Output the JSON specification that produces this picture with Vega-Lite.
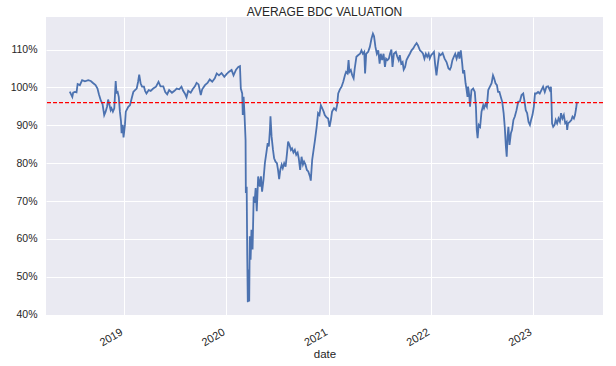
{
  "$schema": "https://vega.github.io/schema/vega-lite/v6.json",
  "width": 557,
  "height": 298,
  "autosize": {"type": "none"},
  "padding": {"left": 46, "top": 17, "right": 13, "bottom": 51},
  "background": "white",
  "title": {"text": "AVERAGE BDC VALUATION", "fontSize": 12, "font": "Liberation Sans", "fontWeight": "normal", "color": "#262626", "offset": -2},
  "config": {
    "view": {"fill": "#EAEAF2", "stroke": null},
    "axis": {"domain": false, "ticks": false, "gridColor": "white", "gridWidth": 1, "labelFont": "Liberation Sans", "labelColor": "#262626", "titleFont": "Liberation Sans", "titleColor": "#262626", "titleFontWeight": "normal"}
  },
  "datasets": {
    "bdc": [
      {"date":"2018-06-21","value":98.9},{"date":"2018-06-30","value":97.5},{"date":"2018-07-03","value":98.6},{"date":"2018-07-09","value":98.8},{"date":"2018-07-15","value":98.7},{"date":"2018-07-19","value":100.9},{"date":"2018-07-27","value":100.6},{"date":"2018-08-04","value":101.9},{"date":"2018-08-14","value":101.6},{"date":"2018-08-26","value":101.9},{"date":"2018-09-04","value":101.7},{"date":"2018-09-13","value":101.1},{"date":"2018-09-21","value":100.6},{"date":"2018-09-28","value":99.7},{"date":"2018-10-03","value":98.2},{"date":"2018-10-10","value":96.5},{"date":"2018-10-16","value":95.6},{"date":"2018-10-22","value":92.7},{"date":"2018-10-27","value":93.6},{"date":"2018-11-01","value":94.9},{"date":"2018-11-05","value":96.8},{"date":"2018-11-10","value":95.3},{"date":"2018-11-14","value":94.0},{"date":"2018-11-17","value":94.5},{"date":"2018-11-22","value":93.6},{"date":"2018-11-27","value":94.5},{"date":"2018-12-02","value":101.7},{"date":"2018-12-05","value":98.6},{"date":"2018-12-09","value":98.8},{"date":"2018-12-13","value":97.5},{"date":"2018-12-17","value":93.6},{"date":"2018-12-21","value":91.0},{"date":"2018-12-23","value":87.9},{"date":"2018-12-27","value":90.1},{"date":"2018-12-30","value":86.8},
      {"date":"2019-01-04","value":90.1},{"date":"2019-01-07","value":93.6},{"date":"2019-01-16","value":94.9},{"date":"2019-01-22","value":95.3},{"date":"2019-01-28","value":97.1},{"date":"2019-02-03","value":98.8},{"date":"2019-02-09","value":99.3},{"date":"2019-02-15","value":99.7},{"date":"2019-02-20","value":101.5},{"date":"2019-02-24","value":103.4},{"date":"2019-03-01","value":101.1},{"date":"2019-03-06","value":100.2},{"date":"2019-03-13","value":100.2},{"date":"2019-03-17","value":99.1},{"date":"2019-03-22","value":98.4},{"date":"2019-03-30","value":99.3},{"date":"2019-04-06","value":99.1},{"date":"2019-04-15","value":99.7},{"date":"2019-04-25","value":100.2},{"date":"2019-05-04","value":101.5},{"date":"2019-05-11","value":100.3},{"date":"2019-05-21","value":100.3},{"date":"2019-05-28","value":98.8},{"date":"2019-06-04","value":98.2},{"date":"2019-06-11","value":99.3},{"date":"2019-06-21","value":98.6},{"date":"2019-06-30","value":99.1},{"date":"2019-07-08","value":99.7},{"date":"2019-07-17","value":99.5},{"date":"2019-07-25","value":100.2},{"date":"2019-07-31","value":99.1},{"date":"2019-08-06","value":98.4},{"date":"2019-08-12","value":97.4},{"date":"2019-08-18","value":99.1},{"date":"2019-08-27","value":98.6},{"date":"2019-09-03","value":99.5},{"date":"2019-09-11","value":100.3},{"date":"2019-09-17","value":101.2},{"date":"2019-09-24","value":100.8},{"date":"2019-10-02","value":98.0},{"date":"2019-10-07","value":99.5},{"date":"2019-10-17","value":100.6},{"date":"2019-10-26","value":101.2},{"date":"2019-11-03","value":102.1},{"date":"2019-11-12","value":101.5},{"date":"2019-11-21","value":102.4},{"date":"2019-11-28","value":103.7},{"date":"2019-12-06","value":103.2},{"date":"2019-12-15","value":103.8},{"date":"2019-12-25","value":102.8},
      {"date":"2020-01-02","value":103.5},{"date":"2020-01-10","value":104.1},{"date":"2020-01-20","value":104.6},{"date":"2020-01-27","value":103.2},{"date":"2020-02-05","value":104.7},{"date":"2020-02-13","value":105.4},{"date":"2020-02-19","value":105.6},{"date":"2020-02-22","value":99.7},{"date":"2020-02-27","value":98.4},{"date":"2020-02-29","value":92.7},{"date":"2020-03-03","value":97.5},{"date":"2020-03-06","value":93.2},{"date":"2020-03-10","value":86.1},{"date":"2020-03-11","value":72.1},{"date":"2020-03-14","value":73.8},{"date":"2020-03-16","value":55.4},{"date":"2020-03-18","value":43.3},{"date":"2020-03-21","value":51.9},{"date":"2020-03-23","value":43.5},{"date":"2020-03-25","value":60.7},{"date":"2020-03-28","value":54.5},{"date":"2020-03-31","value":62.4},{"date":"2020-04-04","value":57.2},{"date":"2020-04-08","value":71.2},{"date":"2020-04-11","value":69.5},{"date":"2020-04-15","value":73.4},{"date":"2020-04-19","value":67.3},{"date":"2020-04-24","value":76.5},{"date":"2020-04-30","value":73.8},{"date":"2020-05-04","value":76.5},{"date":"2020-05-08","value":72.5},{"date":"2020-05-13","value":75.6},{"date":"2020-05-18","value":80.0},{"date":"2020-05-24","value":83.1},{"date":"2020-05-28","value":85.3},{"date":"2020-06-01","value":84.4},{"date":"2020-06-05","value":88.8},{"date":"2020-06-07","value":92.4},{"date":"2020-06-11","value":87.0},{"date":"2020-06-16","value":83.5},{"date":"2020-06-20","value":81.3},{"date":"2020-06-25","value":80.4},{"date":"2020-06-30","value":80.0},{"date":"2020-07-04","value":78.2},{"date":"2020-07-08","value":75.8},{"date":"2020-07-12","value":78.2},{"date":"2020-07-17","value":79.6},{"date":"2020-07-21","value":78.7},{"date":"2020-07-26","value":80.0},{"date":"2020-07-31","value":79.1},{"date":"2020-08-05","value":82.6},{"date":"2020-08-09","value":85.7},{"date":"2020-08-14","value":84.8},{"date":"2020-08-19","value":83.5},{"date":"2020-08-23","value":83.9},{"date":"2020-08-28","value":82.8},{"date":"2020-09-02","value":83.5},{"date":"2020-09-07","value":82.2},{"date":"2020-09-12","value":82.8},{"date":"2020-09-16","value":81.3},{"date":"2020-09-21","value":78.2},{"date":"2020-09-26","value":81.7},{"date":"2020-10-01","value":79.6},{"date":"2020-10-05","value":80.4},{"date":"2020-10-10","value":79.6},{"date":"2020-10-15","value":78.2},{"date":"2020-10-20","value":77.8},{"date":"2020-10-26","value":76.5},{"date":"2020-10-29","value":75.4},{"date":"2020-11-03","value":80.9},{"date":"2020-11-08","value":83.5},{"date":"2020-11-13","value":86.1},{"date":"2020-11-19","value":89.6},{"date":"2020-11-24","value":93.2},{"date":"2020-11-29","value":92.7},{"date":"2020-12-04","value":95.3},{"date":"2020-12-09","value":94.5},{"date":"2020-12-14","value":93.6},{"date":"2020-12-18","value":92.7},{"date":"2020-12-24","value":92.1},{"date":"2020-12-30","value":91.8},
      {"date":"2021-01-04","value":89.6},{"date":"2021-01-09","value":91.5},{"date":"2021-01-13","value":93.6},{"date":"2021-01-20","value":94.5},{"date":"2021-01-27","value":94.0},{"date":"2021-01-31","value":95.3},{"date":"2021-02-04","value":98.4},{"date":"2021-02-10","value":99.5},{"date":"2021-02-16","value":100.2},{"date":"2021-02-22","value":101.5},{"date":"2021-02-28","value":103.2},{"date":"2021-03-04","value":104.1},{"date":"2021-03-09","value":103.7},{"date":"2021-03-13","value":107.2},{"date":"2021-03-16","value":104.1},{"date":"2021-03-21","value":104.6},{"date":"2021-03-26","value":103.2},{"date":"2021-03-31","value":102.4},{"date":"2021-04-04","value":105.0},{"date":"2021-04-10","value":108.1},{"date":"2021-04-16","value":108.5},{"date":"2021-04-23","value":108.9},{"date":"2021-04-28","value":109.8},{"date":"2021-05-03","value":108.9},{"date":"2021-05-08","value":109.4},{"date":"2021-05-11","value":103.7},{"date":"2021-05-15","value":108.9},{"date":"2021-05-22","value":109.4},{"date":"2021-05-28","value":110.7},{"date":"2021-06-03","value":112.9},{"date":"2021-06-08","value":114.2},{"date":"2021-06-12","value":113.5},{"date":"2021-06-17","value":110.7},{"date":"2021-06-22","value":108.9},{"date":"2021-06-27","value":109.8},{"date":"2021-07-02","value":106.3},{"date":"2021-07-06","value":108.9},{"date":"2021-07-11","value":107.2},{"date":"2021-07-16","value":108.9},{"date":"2021-07-21","value":105.4},{"date":"2021-07-25","value":107.6},{"date":"2021-07-30","value":107.2},{"date":"2021-08-04","value":107.6},{"date":"2021-08-08","value":108.9},{"date":"2021-08-13","value":110.0},{"date":"2021-08-17","value":105.4},{"date":"2021-08-22","value":108.9},{"date":"2021-08-29","value":109.4},{"date":"2021-09-03","value":108.1},{"date":"2021-09-08","value":107.2},{"date":"2021-09-12","value":108.5},{"date":"2021-09-17","value":106.3},{"date":"2021-09-22","value":106.7},{"date":"2021-09-26","value":104.7},{"date":"2021-10-01","value":105.4},{"date":"2021-10-06","value":107.2},{"date":"2021-10-12","value":108.1},{"date":"2021-10-18","value":108.9},{"date":"2021-10-24","value":109.8},{"date":"2021-10-30","value":110.3},{"date":"2021-11-05","value":111.1},{"date":"2021-11-11","value":111.7},{"date":"2021-11-16","value":111.1},{"date":"2021-11-23","value":109.8},{"date":"2021-11-29","value":109.4},{"date":"2021-12-04","value":108.9},{"date":"2021-12-09","value":107.6},{"date":"2021-12-14","value":108.9},{"date":"2021-12-19","value":108.1},{"date":"2021-12-24","value":108.9},{"date":"2021-12-28","value":107.6},
      {"date":"2022-01-02","value":108.5},{"date":"2022-01-07","value":108.9},{"date":"2022-01-12","value":109.4},{"date":"2022-01-16","value":106.3},{"date":"2022-01-21","value":103.2},{"date":"2022-01-26","value":106.3},{"date":"2022-01-31","value":108.9},{"date":"2022-02-05","value":108.5},{"date":"2022-02-12","value":109.1},{"date":"2022-02-19","value":107.6},{"date":"2022-02-26","value":106.7},{"date":"2022-03-05","value":105.0},{"date":"2022-03-10","value":104.7},{"date":"2022-03-14","value":105.4},{"date":"2022-03-19","value":107.2},{"date":"2022-03-24","value":108.1},{"date":"2022-03-29","value":108.9},{"date":"2022-04-03","value":107.6},{"date":"2022-04-10","value":109.4},{"date":"2022-04-13","value":107.6},{"date":"2022-04-18","value":109.8},{"date":"2022-04-23","value":106.3},{"date":"2022-04-26","value":103.7},{"date":"2022-04-30","value":104.6},{"date":"2022-05-05","value":101.1},{"date":"2022-05-08","value":99.7},{"date":"2022-05-12","value":97.5},{"date":"2022-05-14","value":100.2},{"date":"2022-05-18","value":98.0},{"date":"2022-05-21","value":94.9},{"date":"2022-05-26","value":99.3},{"date":"2022-06-01","value":99.7},{"date":"2022-06-07","value":98.8},{"date":"2022-06-11","value":94.9},{"date":"2022-06-14","value":88.8},{"date":"2022-06-17","value":86.6},{"date":"2022-06-21","value":90.1},{"date":"2022-06-26","value":89.6},{"date":"2022-07-01","value":93.6},{"date":"2022-07-07","value":95.3},{"date":"2022-07-10","value":94.5},{"date":"2022-07-15","value":95.6},{"date":"2022-07-20","value":94.9},{"date":"2022-07-25","value":99.3},{"date":"2022-07-31","value":100.2},{"date":"2022-08-06","value":101.1},{"date":"2022-08-11","value":103.2},{"date":"2022-08-15","value":102.4},{"date":"2022-08-20","value":101.1},{"date":"2022-08-25","value":100.6},{"date":"2022-08-29","value":98.8},{"date":"2022-09-03","value":98.8},{"date":"2022-09-08","value":97.5},{"date":"2022-09-13","value":96.2},{"date":"2022-09-18","value":93.2},{"date":"2022-09-22","value":89.6},{"date":"2022-09-26","value":84.4},{"date":"2022-09-29","value":81.7},{"date":"2022-10-02","value":87.0},{"date":"2022-10-05","value":89.6},{"date":"2022-10-09","value":84.8},{"date":"2022-10-14","value":87.9},{"date":"2022-10-18","value":88.8},{"date":"2022-10-23","value":91.4},{"date":"2022-10-28","value":92.3},{"date":"2022-11-03","value":94.0},{"date":"2022-11-09","value":96.2},{"date":"2022-11-15","value":96.3},{"date":"2022-11-21","value":98.0},{"date":"2022-11-27","value":98.4},{"date":"2022-12-02","value":96.2},{"date":"2022-12-06","value":94.0},{"date":"2022-12-11","value":93.2},{"date":"2022-12-16","value":90.9},{"date":"2022-12-21","value":90.1},{"date":"2022-12-25","value":91.4},{"date":"2022-12-30","value":92.7},
      {"date":"2023-01-04","value":94.9},{"date":"2023-01-08","value":98.4},{"date":"2023-01-13","value":98.4},{"date":"2023-01-19","value":98.8},{"date":"2023-01-25","value":98.4},{"date":"2023-01-31","value":99.3},{"date":"2023-02-06","value":100.2},{"date":"2023-02-12","value":98.8},{"date":"2023-02-18","value":100.2},{"date":"2023-02-24","value":100.3},{"date":"2023-03-02","value":99.3},{"date":"2023-03-06","value":100.2},{"date":"2023-03-08","value":95.8},{"date":"2023-03-10","value":90.5},{"date":"2023-03-14","value":89.6},{"date":"2023-03-19","value":90.1},{"date":"2023-03-23","value":91.4},{"date":"2023-03-28","value":90.5},{"date":"2023-04-02","value":91.8},{"date":"2023-04-07","value":90.9},{"date":"2023-04-11","value":93.2},{"date":"2023-04-16","value":91.8},{"date":"2023-04-21","value":92.7},{"date":"2023-04-26","value":90.5},{"date":"2023-05-01","value":90.9},{"date":"2023-05-03","value":88.8},{"date":"2023-05-06","value":90.5},{"date":"2023-05-12","value":90.9},{"date":"2023-05-18","value":91.4},{"date":"2023-05-22","value":92.3},{"date":"2023-05-27","value":91.8},{"date":"2023-05-31","value":92.7},{"date":"2023-06-04","value":94.5},{"date":"2023-06-07","value":96.2}
    ],
    "ref": [{"level": 96.0}]
  },
  "layer": [
    {
      "data": {"name": "bdc"},
      "mark": {"type": "line", "color": "#4C72B0", "strokeWidth": 1.8, "clip": true},
      "encoding": {
        "x": {
          "field": "date", "type": "temporal",
          "scale": {"type": "utc", "domain": [{"year": 2018, "month": 3, "date": 28, "utc": true}, {"year": 2023, "month": 9, "date": 8, "utc": true}]},
          "axis": {
            "title": "date", "titleFontSize": 11.5, "titlePadding": 1,
            "values": [{"year": 2019, "utc": true}, {"year": 2020, "utc": true}, {"year": 2021, "utc": true}, {"year": 2022, "utc": true}, {"year": 2023, "utc": true}],
            "format": "%Y", "labelAngle": -30, "labelAlign": "right", "labelBaseline": "top", "labelPadding": 11, "labelOffset": -5.5, "labelFontSize": 11, "labelFlush": false, "labelOverlap": false
          }
        },
        "y": {
          "field": "value", "type": "quantitative",
          "scale": {"domain": [39.9, 118.6], "nice": false, "zero": false},
          "axis": {"title": null, "values": [40, 50, 60, 70, 80, 90, 100, 110], "labelExpr": "datum.value + '%'", "labelPadding": 9, "labelFontSize": 10.5}
        }
      }
    },
    {
      "data": {"name": "ref"},
      "mark": {"type": "rule", "color": "#FF0000", "strokeWidth": 1.2, "strokeDash": [4, 2]},
      "encoding": {"y": {"field": "level", "type": "quantitative"}}
    }
  ]
}
